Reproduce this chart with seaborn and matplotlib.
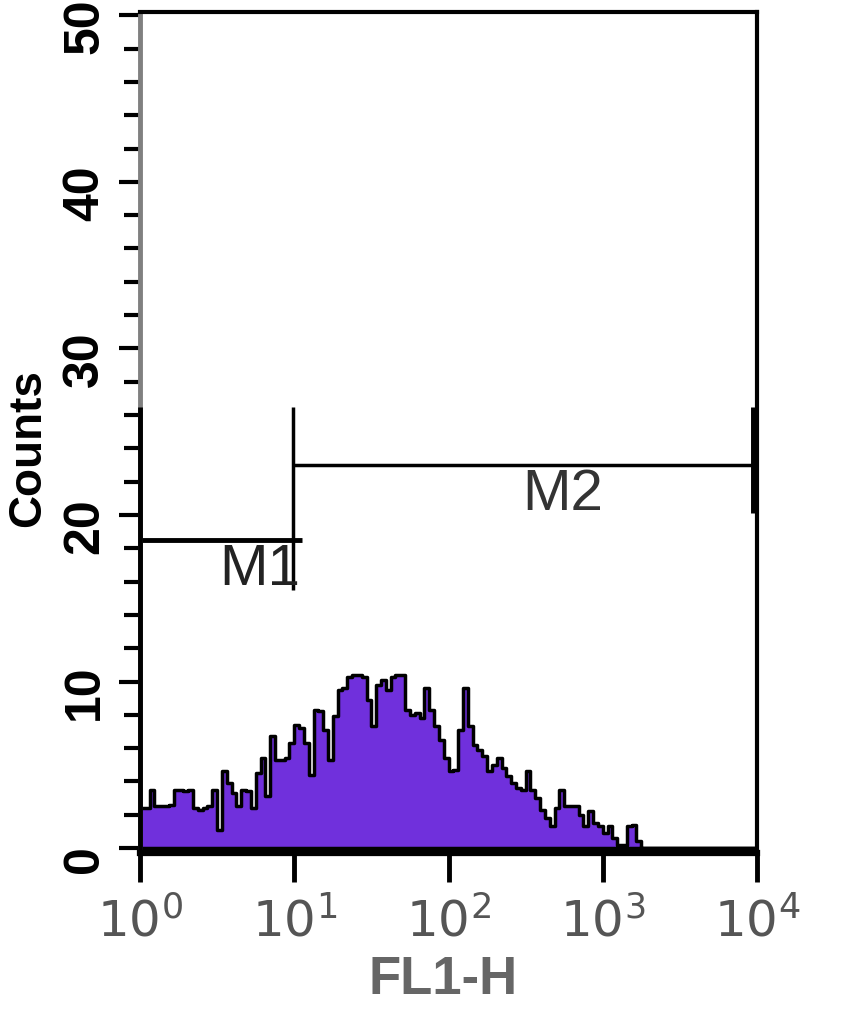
import matplotlib.pyplot as plt
import seaborn as sns
import numpy as np
from matplotlib.ticker import FixedLocator, LogLocator, MultipleLocator, NullFormatter
from matplotlib.transforms import ScaledTranslation

# FL1-H histogram, 32 channels per decade from 10^0 to 10^4
counts = [
    2.4, 2.4, 3.5, 2.5, 2.5, 2.5, 2.6, 3.5, 3.5, 3.4, 3.5, 2.4, 2.3, 2.4, 2.5, 3.5,
    1.1, 4.6, 3.9, 3.3, 2.5, 3.5, 3.4, 2.4, 4.5, 5.4, 3.1, 6.7, 5.3, 5.3, 5.4, 6.3,
    7.4, 7.2, 6.3, 4.4, 8.3, 8.2, 7.1, 5.3, 7.9, 9.5, 9.6, 10.3, 10.4, 10.4, 10.3, 8.9,
    7.3, 9.8, 10.1, 9.5, 10.3, 10.4, 10.4, 8.3, 8.0, 8.1, 7.8, 9.6, 8.3, 7.3, 6.5, 5.4,
    4.6, 4.7, 7.1, 9.6, 7.3, 6.2, 5.9, 5.5, 4.6, 5.0, 5.4, 4.8, 4.3, 3.9, 3.6, 3.5,
    4.6, 3.5, 3.0, 2.3, 1.8, 1.3, 2.4, 3.5, 2.5, 2.5, 2.5, 2.0, 1.3, 2.2, 1.5, 1.3,
    0.9, 1.3, 0.6, 0.2, 0.2, 1.3, 1.4, 0.4, 0, 0, 0, 0, 0, 0, 0, 0,
    0, 0, 0, 0, 0, 0, 0, 0, 0, 0, 0, 0, 0, 0, 0, 0,
]
channels_per_decade = 32

xticks = [1, 10, 100, 1000, 10000]
xtick_labels = [r'$\mathrm{10^{0}}$', r'$\mathrm{10^{1}}$', r'$\mathrm{10^{2}}$',
                r'$\mathrm{10^{3}}$', r'$\mathrm{10^{4}}$']
yticks = [0, 10, 20, 30, 40, 50]

# marker gates
m1_x = [1, 10]
m1_y = 18.5
m2_x = [10, 9550]
m2_y = 23.0

sns.set_style("white")
plt.rcParams['font.family'] = ['Liberation Sans Narrow', 'Liberation Sans', 'DejaVu Sans']
plt.rcParams['mathtext.fontset'] = 'custom'
plt.rcParams['mathtext.rm'] = 'Liberation Sans Narrow'
plt.rcParams['mathtext.it'] = 'Liberation Sans Narrow:italic'
plt.rcParams['mathtext.bf'] = 'Liberation Sans Narrow:bold'

fig = plt.figure(figsize=(8.5, 10.33), dpi=100)
ax = fig.add_axes([0.1647, 0.1742, 0.7259, 0.8142])

chan = np.arange(len(counts))
x = 10 ** ((chan + 0.5) / channels_per_decade)
sns.histplot(x=x, weights=counts, bins=len(counts), binrange=(0, 4), log_scale=True,
             element="step", fill=True, color="#7030dc", alpha=1,
             edgecolor="black", linewidth=2.5, ax=ax)

ax.set_xlim(1, 10000)
ax.set_ylim(-0.3, 50.2)

# spines
for side in ['top', 'right']:
    ax.spines[side].set_color('black')
    ax.spines[side].set_linewidth(3)
ax.spines['bottom'].set_color('black')
ax.spines['bottom'].set_linewidth(4.5)
ax.spines['left'].set_color('#808080')
ax.spines['left'].set_linewidth(3.5)
ax.vlines(1, -0.3, 26.5, color='black', lw=3.5, clip_on=False, zorder=5)

# ticks
ax.xaxis.set_major_locator(FixedLocator(xticks))
ax.set_xticklabels(xtick_labels)
ax.xaxis.set_minor_locator(LogLocator(base=10, subs=np.arange(2, 10)))
ax.xaxis.set_minor_formatter(NullFormatter())
ax.yaxis.set_major_locator(FixedLocator(yticks))
ax.yaxis.set_minor_locator(MultipleLocator(2))

ax.tick_params(which='both', bottom=True, left=True, top=False, right=False)
ax.tick_params(axis='x', which='major', direction='out', length=21, width=3.5,
               color='black', labelcolor='#555555', labelsize=36, pad=11)
ax.tick_params(axis='x', which='minor', direction='out', length=13, width=3.5, color='black')
ax.tick_params(axis='y', which='major', direction='out', length=15, width=3,
               color='black', labelcolor='black', labelsize=36, pad=8, labelrotation=90)
ax.tick_params(axis='y', which='minor', direction='out', length=11.5, width=3, color='black')

shift = ScaledTranslation(0, -11 / 100, fig.dpi_scale_trans)
for tick in ax.yaxis.get_major_ticks():
    lbl = tick.label1
    lbl.set_fontweight('bold')
    lbl.set_va('center')
    lbl.set_transform(lbl.get_transform() + shift)

# gates
ax.hlines(m1_y, m1_x[0], 11.3, color='black', lw=3.5)
ax.vlines(m1_x[1] * 0.975, 15.5, 26.5, color='black', lw=2.5)
ax.hlines(m2_y, m2_x[0] * 0.975, m2_x[1], color='black', lw=2.5)
ax.vlines(m2_x[1], 20.1, 26.5, color='black', lw=5)
ax.text(5.94, 16.7, 'M1', fontsize=42, color='#222222', ha='center', va='center')
ax.text(547, 21.2, 'M2', fontsize=42, color='#333333', ha='center', va='center')

ax.set_xlabel('FL1-H', fontsize=38, fontweight='bold', color='#666666', va='top')
ax.xaxis.set_label_coords(0.491, -0.1213)
ax.set_ylabel('Counts', fontsize=33, fontweight='bold', color='black',
              family=['Liberation Sans', 'DejaVu Sans'])
ax.yaxis.set_label_coords(-0.146, 0.4816)

fig.savefig('out.png', dpi=100)
